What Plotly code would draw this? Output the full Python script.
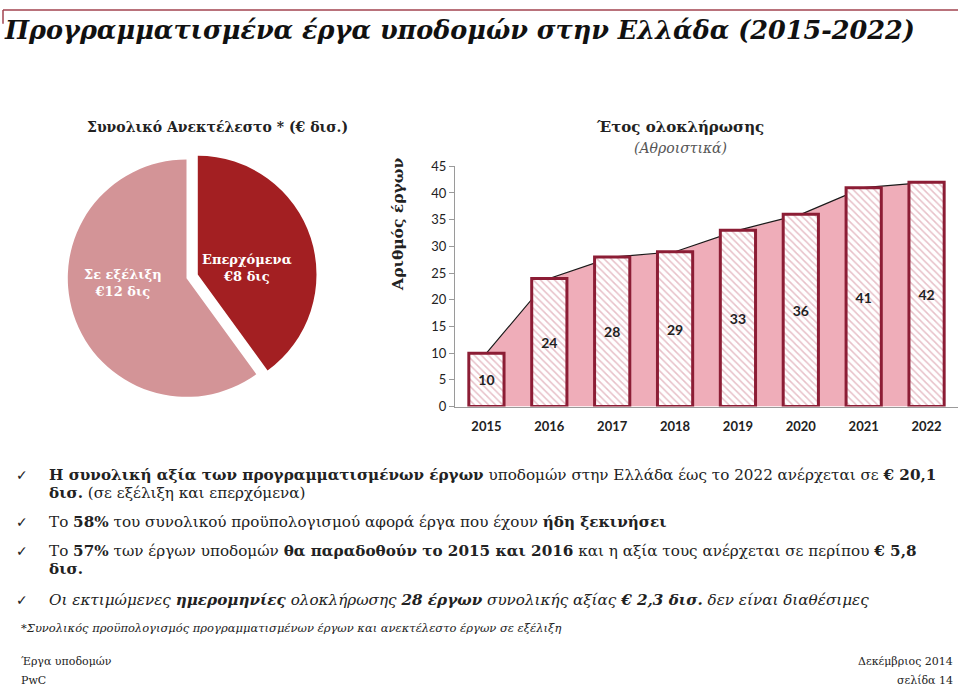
import plotly.graph_objects as go

# ---- data ----
years = ["2015", "2016", "2017", "2018", "2019", "2020", "2021", "2022"]
projects_cum = [10, 24, 28, 29, 33, 36, 41, 42]
pie_labels = ["Επερχόμενα", "Σε εξέλιξη"]
pie_values = [8, 12]
pie_text = ["Επερχόμενα<br>€8 δις", "Σε εξέλιξη<br>€12 δις"]
y_ticks = [0, 5, 10, 15, 20, 25, 30, 35, 40, 45]

W, H = 960, 696
def px(x):
    return x / W
def py(y):
    return 1 - y / H

SERIF = "DejaVu Serif"
SANS = "Lato"

fig = go.Figure()

# pie
fig.add_trace(go.Pie(
    values=pie_values, labels=pie_labels, sort=False, direction="clockwise",
    rotation=0, pull=[0.1, 0],
    marker=dict(colors=["#A31F22", "#D39497"], line=dict(width=0)),
    textinfo="none", hoverinfo="label+value", showlegend=False,
    domain=dict(x=[px(52.85), px(320.15)], y=[py(410.15), py(142.85)]),
))

# area (base subplot)
fig.add_trace(go.Scatter(
    x=years, y=projects_cum, mode="lines", fill="tozeroy",
    fillcolor="#EFADB9", line=dict(color="#1a1a1a", width=1.2),
    showlegend=False, xaxis="x", yaxis="y",
))

# bars (overlay subplot drawn above area)
fig.add_trace(go.Bar(
    x=years, y=projects_cum, width=0.56,
    marker=dict(
        color="white",
        line=dict(color="#8C1D35", width=3),
        pattern=dict(shape="\\", fgcolor="#CF8292", bgcolor="white", size=5, solidity=0.3),
    ),
    texttemplate="<b>%{y}</b>", textposition="inside", insidetextanchor="middle",
    textfont=dict(family=SANS, size=14, color="#222"),
    showlegend=False, xaxis="x", yaxis="y2",
))

xdom = [px(455), px(958)]
ydom = [py(408), py(162)]

fig.update_layout(
    width=W, height=H, margin=dict(l=0, r=0, t=0, b=0),
    paper_bgcolor="white", plot_bgcolor="rgba(0,0,0,0)",
    xaxis=dict(domain=xdom, type="category", range=[-0.5, 7.5], showline=True,
               linecolor="#9a9a9a", linewidth=1, ticks="", showgrid=False,
               tickfont=dict(family=SANS, size=13, color="#222"),
               ticklabelstandoff=8,
               tickprefix="<b>", ticksuffix="</b>", anchor="y"),
    yaxis=dict(domain=ydom, range=[0, 45], tickvals=y_ticks, showline=True,
               linecolor="#9a9a9a", linewidth=1, ticks="outside", ticklen=5,
               tickcolor="#9a9a9a", showgrid=False, zeroline=False,
               tickfont=dict(family=SANS, size=13, color="#222"), anchor="x"),
    yaxis2=dict(domain=ydom, range=[0, 45], overlaying="y", visible=False, anchor="x"),
    bargap=0.44,
)

ann = []
def add(x, y, text, size, xanchor="left", color="#222", family=SERIF, angle=0, yanchor="middle", align="left"):
    ann.append(dict(x=px(x), y=py(y), xref="paper", yref="paper", text=text,
                    showarrow=False, xanchor=xanchor, yanchor=yanchor, align=align,
                    textangle=angle, borderpad=0,
                    font=dict(family=family, size=size, color=color)))

# title
add(3, 23, "<b><i>Προγραμματισμένα έργα υποδομών στην Ελλάδα (2015-2022)</i></b>", 25.5, color="#111")

# pie header and labels
add(217, 122, "<b>Συνολικό Ανεκτέλεστο * (€ δισ.)</b>", 14, xanchor="center")
add(247, 266, "<b>" + pie_text[0] + "</b>", 13, xanchor="center", color="white", align="center")
add(123, 281, "<b>" + pie_text[1] + "</b>", 13, xanchor="center", color="white", align="center")

# bar headers
add(680, 122, "<b>Έτος ολοκλήρωσης</b>", 15, xanchor="center")
add(680, 143, "<i>(Αθροιστικά)</i>", 14, xanchor="center", color="#555")
add(398, 222, "<b>Αριθμός έργων</b>", 15.5, xanchor="center", angle=-90)

# bullets
for yy in [478, 526, 556, 606]:
    add(15, yy, "✓", 14, family="DejaVu Sans")
BS = 15.2
add(48, 478, "<b>Η συνολική αξία των προγραμματισμένων έργων</b> υποδομών στην Ελλάδα έως το 2022 ανέρχεται σε <b>€ 20,1</b>", BS)
add(48, 496, "<b>δισ.</b> (σε εξέλιξη και επερχόμενα)", BS)
add(48, 526, "Το <b>58%</b> του συνολικού προϋπολογισμού αφορά έργα που έχουν <b>ήδη ξεκινήσει</b>", BS)
add(48, 556, "Το <b>57%</b> των έργων υποδομών <b>θα παραδοθούν το 2015 και 2016</b> και η αξία τους ανέρχεται σε περίπου <b>€ 5,8</b>", BS)
add(48, 574, "<b>δισ.</b>", BS)
add(48, 606, "<i>Οι εκτιμώμενες <b>ημερομηνίες</b> ολοκλήρωσης <b>28 έργων</b> συνολικής αξίας <b>€ 2,3 δισ.</b> δεν είναι διαθέσιμες</i>", BS)
add(20, 635, "<i>*Συνολικός προϋπολογισμός προγραμματισμένων έργων και ανεκτέλεστο έργων σε εξέλιξη</i>", 11.5)

# footer
add(20, 669, "Έργα υποδομών", 11)
add(20, 688, "PwC", 11)
add(954, 669, "Δεκέμβριος 2014", 11, xanchor="right")
add(954, 688, "σελίδα 14", 11, xanchor="right")

fig.update_layout(
    annotations=ann,
    shapes=[
        dict(type="line", xref="paper", yref="paper", x0=px(3), x1=px(958), y0=py(2), y1=py(2),
             line=dict(color="#A2434F", width=1.5)),
        dict(type="line", xref="paper", yref="paper", x0=px(3), x1=px(3), y0=py(2), y1=py(16),
             line=dict(color="#A2434F", width=1.5)),
    ],
)

fig.write_html("out.html", config={"displayModeBar": False},
               post_script="document.body.style.margin='0px';")
